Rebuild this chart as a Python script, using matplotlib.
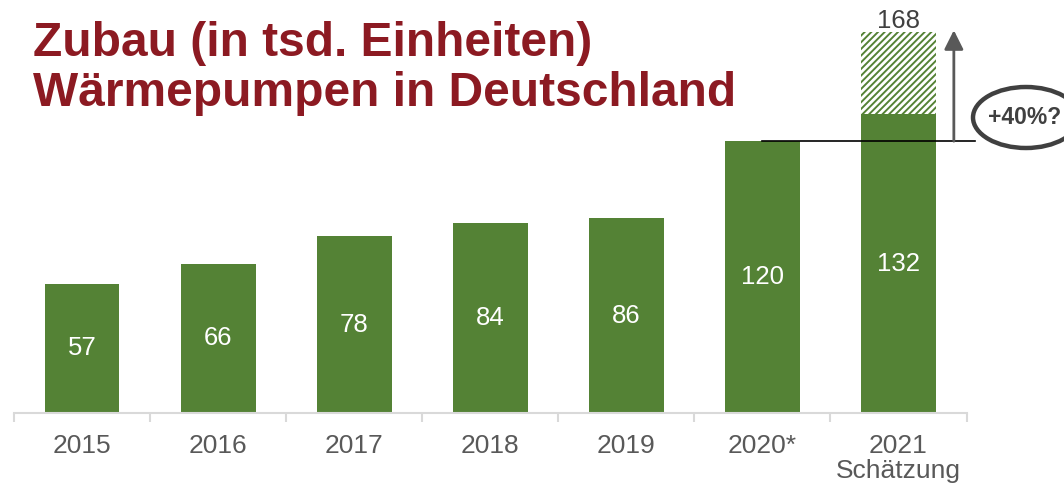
import matplotlib
matplotlib.use('Agg')
import matplotlib.pyplot as plt
from matplotlib.patches import Ellipse

categories = ['2015', '2016', '2017', '2018', '2019', '2020*', '2021\nSchätzung']
values = [57, 66, 78, 84, 86, 120, 132]
estimate_2021 = 168
growth_label = '+40%?'
title_lines = ['Zubau (in tsd. Einheiten)', 'Wärmepumpen in Deutschland']

plt.rcParams['font.family'] = ['Liberation Sans', 'DejaVu Sans']
plt.rcParams['hatch.linewidth'] = 2.0

W, H = 1064, 483
green = '#548235'
gray_txt = '#595959'
dark = '#404040'
red = '#8C1A22'

fig = plt.figure(figsize=(W / 100, H / 100), dpi=100)
ax = fig.add_axes([14 / W, (H - 413) / H, (966.5 - 14) / W, 413 / H])

x = list(range(len(categories)))
bw = 0.55
ax.bar(x, values, width=bw, color=green, linewidth=0)
last = len(values) - 1
ax.bar(last, estimate_2021 - values[-1], bottom=values[-1], width=bw,
       facecolor=green, edgecolor='white', hatch='/////', linewidth=0)

ax.set_xlim(-0.5, len(categories) - 0.5)
ax.set_ylim(0, 413 / 2.265)

for i, v in enumerate(values):
    ax.text(i, v / 2, str(v), ha='center', va='center', color='white', fontsize=18.5)

ax.annotate(str(estimate_2021), (last, estimate_2021), xytext=(0, 3.5),
            textcoords='offset points', ha='center', va='baseline',
            color=dark, fontsize=18.5)

# reference line at 2020 level
ax.plot([5, 6.563], [values[5], values[5]], color='black', lw=1.2, clip_on=False)
# arrow up
ax.annotate('', xy=(6.407, estimate_2021 + 1), xytext=(6.407, values[5]),
            arrowprops=dict(arrowstyle='-|>,head_length=0.58,head_width=0.29',
                            mutation_scale=20, color=gray_txt, lw=2.0,
                            shrinkA=0, shrinkB=0), annotation_clip=False)

# ellipse + label
ell = Ellipse((1026 / W, 1 - 117.5 / H), 106 / W, 61 / H, transform=fig.transFigure,
              fill=False, edgecolor=dark, lw=3.2)
fig.add_artist(ell)
fig.text(1025 / W, 1 - 117 / H, growth_label, ha='center', va='center',
         fontsize=16.5, fontweight='bold', color=dark)

# axes styling
for s in ['top', 'left', 'right']:
    ax.spines[s].set_visible(False)
ax.spines['bottom'].set_color('#d9d9d9')
ax.spines['bottom'].set_linewidth(1.5)
ax.set_yticks([])
ax.set_xticks(x, categories)
ax.set_xticks([i - 0.5 for i in range(len(categories) + 1)], minor=True)
ax.tick_params(axis='x', which='major', length=0, pad=15, labelsize=19, labelcolor=gray_txt)
ax.tick_params(axis='x', which='minor', length=6.5, width=1.5, color='#d9d9d9')
for lbl in ax.get_xticklabels():
    lbl.set_linespacing(1.05)

# title
fig.text(33 / W, 1 - 56 / H, title_lines[0], ha='left', va='baseline',
         fontsize=34.5, fontweight='bold', color=red)
fig.text(33 / W, 1 - 106 / H, title_lines[1], ha='left', va='baseline',
         fontsize=34.5, fontweight='bold', color=red)

fig.savefig('out.png', dpi=100)
